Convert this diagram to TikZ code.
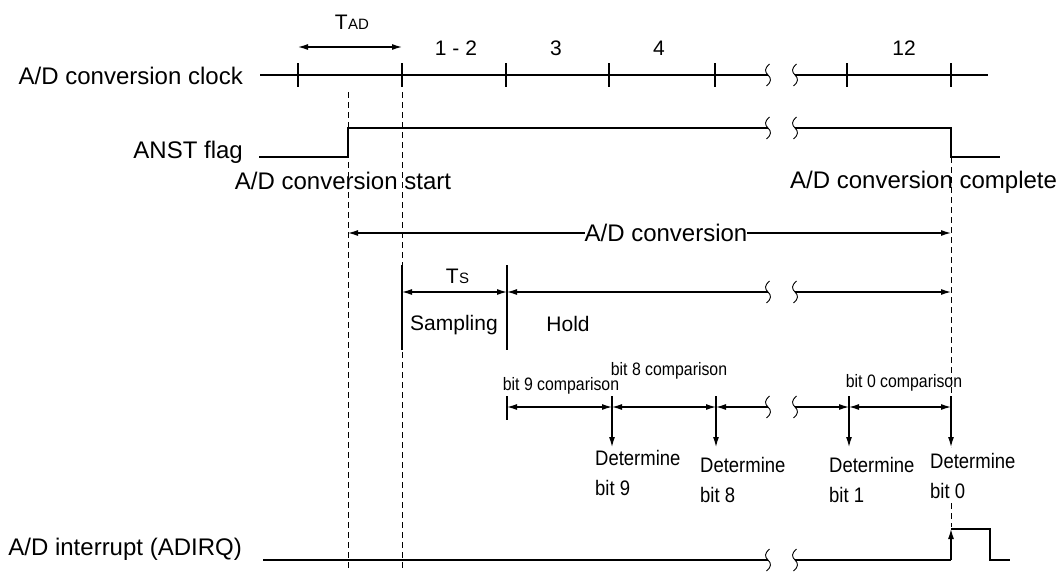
\documentclass[tikz,border=0pt]{standalone}
\usepackage{fontspec}
\setmainfont{Liberation Sans}
\newfontfamily\narrowfont[FakeStretch=0.88]{Liberation Sans}
\usepackage{tikz}
\usetikzlibrary{arrows.meta, positioning, calc}

% break mark on a time line
\newcommand{\brkmark}[1]{%
  \draw[brk] ($(#1)+(1.5,-11)$) .. controls ($(#1)+(-3.5,-7)$) and ($(#1)+(-3.5,-3)$) .. (#1)
    .. controls ($(#1)+(3.5,3)$) and ($(#1)+(3.5,7)$) .. ($(#1)+(-1.5,11)$);}

\begin{document}
\begin{tikzpicture}[
    x=1pt, y=-1pt,
    sig/.style={line width=1.2pt},
    brk/.style={line width=0.9pt},
    guide/.style={line width=1pt, dash pattern=on 6pt off 4pt},
    dimarrow/.style={line width=1.2pt, {Latex[length=10pt,width=6pt]}-{Latex[length=10pt,width=6pt]}},
    leftarrow/.style={line width=1.2pt, {Latex[length=10pt,width=6pt]}-},
    rightarrow/.style={line width=1.2pt, -{Latex[length=10pt,width=6pt]}},
    lbl/.style={font=\fontsize{24}{28}\selectfont, inner sep=0pt},
    num/.style={font=\fontsize{21}{25}\selectfont, inner sep=0pt, anchor=base},
    sub/.style={font=\fontsize{15}{18}\selectfont, inner sep=0pt, anchor=base west},
    cmp/.style={font=\narrowfont\fontsize{18}{22}\selectfont, inner sep=0pt, anchor=base},
    det/.style={font=\narrowfont\fontsize{21}{30}\selectfont, inner sep=0pt,
                align=left, anchor=north west},
]
    \useasboundingbox (0,0) rectangle (1060,571);

    % conversion clock
    \node[lbl, anchor=base east] (clklbl) at (243,84) {A/D conversion clock};
    \coordinate (clkA) at (260,75);
    \coordinate (clkB) at (768,75);
    \coordinate (clkC) at (795,75);
    \coordinate (clkD) at (988,75);
    \draw[sig] (clkA) -- (clkB);
    \draw[sig] (clkC) -- (clkD);
    \brkmark{clkB} \brkmark{clkC}
    \foreach \x in {298,402,506,609,715,847,951}
        \draw[sig] (\x,63) -- (\x,87);

    \node[num, anchor=base east] (tad) at (348,29) {T};
    \node[sub] (tadsub) at (tad.base east) {AD};
    \coordinate (tadL) at (298,47);
    \coordinate (tadR) at (402,47);
    \draw[dimarrow] (tadL) -- (tadR);

    \node[num] (c12) at (456,55) {1 - 2};
    \node[num] (c3) at (556,55) {3};
    \node[num] (c4) at (659,55) {4};
    \node[num] (c12b) at (904,55) {12};

    % ANST flag
    \node[lbl, anchor=base east] (anstlbl) at (243,158) {ANST flag};
    \coordinate (anA) at (259,157);
    \coordinate (anB) at (348,128);
    \coordinate (anC) at (768,128);
    \coordinate (anD) at (795,128);
    \coordinate (anE) at (951,157);
    \coordinate (anF) at (1000,157);
    \draw[sig] (anA) -| (anB) -- (anC);
    \draw[sig] (anD) -| (anE) -- (anF);
    \brkmark{anC} \brkmark{anD}

    \node[lbl, anchor=base] (startlbl) at (343,189) {A/D conversion start};
    \node[lbl, anchor=base west] (donelbl) at (790,188) {A/D conversion complete};

    % guide lines
    \coordinate (gA1) at (348,92);
    \coordinate (gA2) at (348,571);
    \coordinate (gB1) at (402,92);
    \coordinate (gB2) at (402,571);
    \coordinate (gC1) at (951,157);
    \coordinate (gC2) at (951,447);
    \coordinate (gC3) at (951,503);
    \coordinate (gC4) at (951,527);
    \draw[guide] (gA1) -- (gA2);
    \draw[guide] (gB1) -- (gB2);
    \draw[guide] (gC1) -- (gC2);
    \draw[guide] (gC3) -- (gC4);

    % conversion time
    \coordinate (cvL) at (348,233);
    \coordinate (cvR) at (951,233);
    \draw[dimarrow] (cvL) -- (cvR);
    \node[lbl, fill=white] (cvlbl) at (666,233) {A/D conversion};

    % sampling and hold
    \draw[sig] (402,265) -- (402,350);
    \draw[sig] (507,265) -- (507,350);
    \coordinate (smpL) at (402,292);
    \coordinate (smpR) at (507,292);
    \coordinate (hldB) at (768,292);
    \coordinate (hldC) at (795,292);
    \coordinate (hldD) at (951,292);
    \draw[dimarrow] (smpL) -- (smpR);
    \draw[leftarrow] (smpR) -- (hldB);
    \draw[rightarrow] (hldC) -- (hldD);
    \brkmark{hldB} \brkmark{hldC}
    \node[num, anchor=base east] (ts) at (459,283) {T};
    \node[sub] (tssub) at (ts.base east) {S};
    \node[num] (smplbl) at (454,330) {Sampling};
    \node[num] (hldlbl) at (568,331) {Hold};

    % bit comparisons
    \coordinate (b9) at (507,407);
    \coordinate (b8) at (612,407);
    \coordinate (b7) at (716,407);
    \coordinate (bx1) at (768,407);
    \coordinate (bx2) at (795,407);
    \coordinate (b1) at (849,407);
    \coordinate (b0) at (951,407);
    \draw[sig] (507,396) -- (507,420);
    \draw[dimarrow] (b9) -- (b8);
    \draw[dimarrow] (b8) -- (b7);
    \draw[leftarrow] (b7) -- (bx1);
    \draw[rightarrow] (bx2) -- (b1);
    \draw[dimarrow] (b1) -- (b0);
    \brkmark{bx1} \brkmark{bx2}
    \foreach \x in {612,716,849,951}
        \draw[rightarrow] (\x,396) -- (\x,447);

    \node[cmp] (cmp9) at (561,390) {bit 9 comparison};
    \node[cmp] (cmp8) at (669,375) {bit 8 comparison};
    \node[cmp] (cmp0) at (904,387) {bit 0 comparison};

    \node[det] (det9) at (595,450) {Determine\\bit 9};
    \node[det] (det8) at (700,457) {Determine\\bit 8};
    \node[det] (det1) at (829,457) {Determine\\bit 1};
    \node[det] (det0) at (930,453) {Determine\\bit 0};

    % interrupt request
    \node[lbl, anchor=base east] (irqlbl) at (242,555) {A/D interrupt (ADIRQ)};
    \coordinate (irA) at (263,560);
    \coordinate (irB) at (768,560);
    \coordinate (irC) at (795,560);
    \coordinate (irD) at (951,560);
    \coordinate (irE) at (951,529);
    \coordinate (irF) at (990,560);
    \coordinate (irG) at (1010,560);
    \draw[sig] (irA) -- (irB);
    \draw[sig] (irC) -- (irD);
    \brkmark{irB} \brkmark{irC}
    \draw[rightarrow] (irD) -- (irE);
    \draw[sig] (irE) -| (irF) -- (irG);
\end{tikzpicture}
\end{document}
